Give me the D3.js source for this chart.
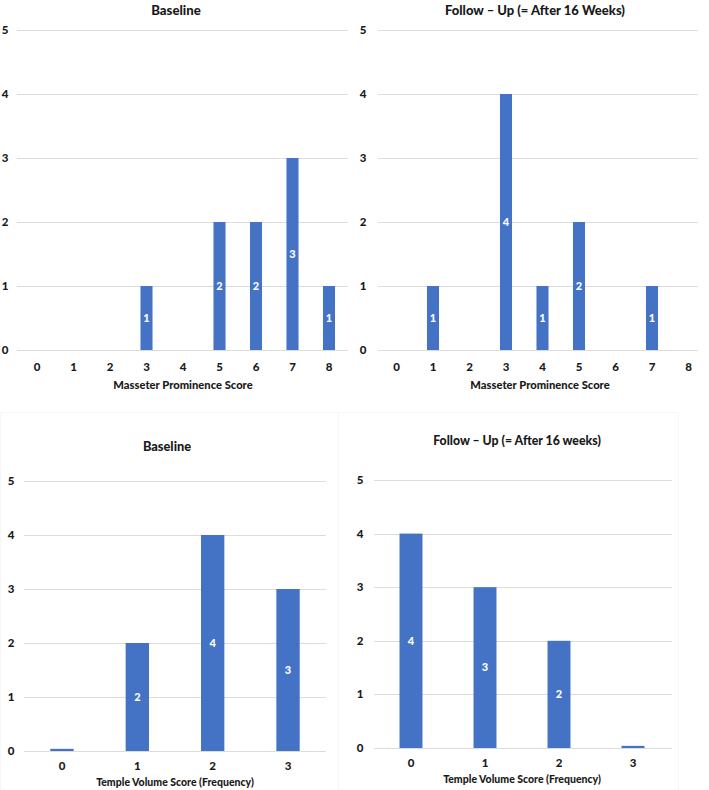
<!DOCTYPE html>
<html>
<head>
<meta charset="utf-8">
<script src="https://cdn.jsdelivr.net/npm/d3@7"></script>
<style>
  html, body { margin: 0; padding: 0; background: #fff; }
  svg { display: block; font-family: Lato, "Open Sans", sans-serif; }
</style>
</head>
<body>
<svg id="chart" width="709" height="790"></svg>
<script>
// ---- data ----
const masseterCategories = ["0", "1", "2", "3", "4", "5", "6", "7", "8"];
const masseterBaseline   = [0, 0, 0, 1, 0, 2, 2, 3, 1];
const masseterFollowUp   = [0, 1, 0, 4, 1, 2, 0, 1, 0];
const templeCategories   = ["0", "1", "2", "3"];
const templeBaseline     = [0.04, 2, 4, 3];
const templeFollowUp     = [4, 3, 2, 0.04];
const yTicks             = [0, 1, 2, 3, 4, 5];

const titles = ["Baseline", "Follow \u2013 Up (= After 16 Weeks)", "Baseline", "Follow \u2013 Up (= After 16 weeks)"];
const axisTitles = ["Masseter Prominence Score", "Masseter Prominence Score",
                    "Temple Volume Score (Frequency)", "Temple Volume Score (Frequency)"];

const svg = d3.select("#chart");
const BAR = "#4472C4", GRID = "#dcdcdc", TXT = "#1a1a1a";

// very faint chart-area borders for the lower charts
svg.append("rect").attr("x", 0.5).attr("y", 412.5).attr("width", 338).attr("height", 380)
  .attr("fill", "none").attr("stroke", "#f6f6f6");
svg.append("rect").attr("x", 338.5).attr("y", 412.5).attr("width", 340).attr("height", 380)
  .attr("fill", "none").attr("stroke", "#f6f6f6");

function panel(cfg) {
  const g = svg.append("g");
  const x = d3.scaleBand().domain(cfg.cats).range(cfg.xr).paddingInner(cfg.pad).paddingOuter(cfg.pad / 2);
  const y = d3.scaleLinear().domain([0, 5]).range([cfg.y0, cfg.y5]);

  // gridlines
  g.selectAll("line.grid").data(yTicks).join("line")
    .attr("x1", cfg.gx[0]).attr("x2", cfg.gx[1])
    .attr("y1", d => Math.round(y(d)) + 0.5).attr("y2", d => Math.round(y(d)) + 0.5)
    .attr("stroke", GRID).attr("stroke-width", 1);

  // y labels
  g.selectAll("text.yl").data(yTicks).join("text")
    .attr("x", cfg.ylx).attr("y", d => y(d)).attr("dy", "0.35em")
    .attr("text-anchor", "middle").attr("font-size", 11.5).attr("font-weight", 900)
    .attr("fill", TXT).text(d => d);

  const data = cfg.cats.map((c, i) => ({ c, v: cfg.vals[i] }));
  // bars
  g.selectAll("rect.bar").data(data.filter(d => d.v > 0)).join("rect")
    .attr("x", d => x(d.c)).attr("width", x.bandwidth())
    .attr("y", d => y(d.v)).attr("height", d => y(0) - y(d.v))
    .attr("fill", BAR);

  // data labels
  g.selectAll("text.dl").data(data.filter(d => d.v >= 1)).join("text")
    .attr("x", d => x(d.c) + x.bandwidth() / 2).attr("y", d => (y(d.v) + y(0)) / 2).attr("dy", "0.35em")
    .attr("text-anchor", "middle").attr("font-size", 11).attr("font-weight", 900)
    .attr("fill", "#fff").text(d => Math.round(d.v));

  // x tick labels
  g.selectAll("text.xl").data(cfg.cats).join("text")
    .attr("x", d => x(d) + x.bandwidth() / 2).attr("y", cfg.xly).attr("dy", "0.35em")
    .attr("text-anchor", "middle").attr("font-size", 11.5).attr("font-weight", 900)
    .attr("fill", TXT).text(d => d);

  // axis title
  g.append("text").attr("x", cfg.atx).attr("y", cfg.aty).attr("dy", "0.35em")
    .attr("text-anchor", "middle").attr("font-size", cfg.atSize).attr("font-weight", 900)
    .attr("fill", TXT).text(cfg.axisTitle);

  // chart title
  g.append("text").attr("x", cfg.tx).attr("y", cfg.ty).attr("dy", "0.35em")
    .attr("text-anchor", "middle").attr("font-size", cfg.tSize).attr("font-weight", 900)
    .attr("fill", TXT).text(cfg.title);
}

panel({ cats: masseterCategories, vals: masseterBaseline, xr: [18.75, 347.25], pad: 0.67,
        y0: 350, y5: 30, gx: [17, 348], ylx: 5, xly: 367, atx: 183, aty: 385, atSize: 11.2,
        tx: 176, ty: 10, tSize: 13.2, title: titles[0], axisTitle: axisTitles[0] });
panel({ cats: masseterCategories, vals: masseterFollowUp, xr: [378.25, 706.75], pad: 0.67,
        y0: 350, y5: 30, gx: [378, 698], ylx: 363, xly: 367, atx: 540, aty: 385, atSize: 11.2,
        tx: 535, ty: 10, tSize: 13, title: titles[1], axisTitle: axisTitles[1] });
panel({ cats: templeCategories, vals: templeBaseline, xr: [24.3, 325.7], pad: 0.69,
        y0: 751, y5: 481, gx: [24, 326], ylx: 11, xly: 766, atx: 175, aty: 782, atSize: 10.5,
        tx: 167, ty: 447, tSize: 12.8, title: titles[2], axisTitle: axisTitles[2] });
panel({ cats: templeCategories, vals: templeFollowUp, xr: [374, 670], pad: 0.69,
        y0: 748, y5: 480, gx: [374, 672], ylx: 360, xly: 763, atx: 522, aty: 779, atSize: 10.5,
        tx: 517, ty: 441, tSize: 12.3, title: titles[3], axisTitle: axisTitles[3] });
</script>
</body>
</html>
